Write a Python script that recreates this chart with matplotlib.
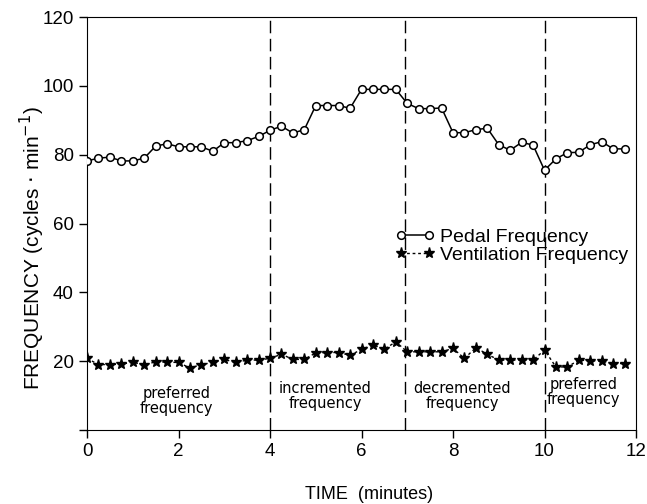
import numpy as np
import matplotlib.pyplot as plt

plt.rcParams['font.family'] = ['Liberation Sans', 'DejaVu Sans']

# time in minutes, one sample every 15 s
time_min = np.arange(48) * 0.25

pedal = [78.2, 79.0, 79.3, 78.2, 78.2, 79.0, 82.5, 83.2, 82.3, 82.3, 82.3, 81.0,
         83.5, 83.5, 84.1, 85.3, 87.1, 88.3, 86.3, 87.3, 94.3, 94.3, 94.3, 93.5,
         99.0, 99.0, 99.0, 99.0, 94.9, 93.4, 93.4, 93.6, 86.4, 86.4, 87.3, 87.7,
         82.9, 81.3, 83.6, 82.8, 75.5, 78.8, 80.6, 80.7, 82.9, 83.8, 81.7, 81.7]

ventilation = [20.8, 19.0, 19.0, 19.1, 19.7, 18.9, 19.8, 19.7, 19.6, 18.0, 19.0, 19.6,
               20.5, 19.6, 20.3, 20.3, 20.8, 22.0, 20.5, 20.5, 22.4, 22.5, 22.5, 21.7,
               23.4, 24.7, 23.5, 25.6, 22.7, 22.7, 22.7, 22.7, 23.7, 20.8, 23.9, 22.0,
               20.3, 20.3, 20.3, 20.3, 23.2, 18.3, 18.3, 20.3, 20.1, 20.0, 19.3, 19.3]

phase_bounds = [4, 6.95, 10]
phase_labels = ['preferred\nfrequency', 'incremented\nfrequency',
                'decremented\nfrequency', 'preferred\nfrequency']
phase_label_x = [1.95, 5.2, 8.2, 10.85]
phase_label_y = [8.5, 10.0, 10.0, 11.0]

fig = plt.figure(figsize=(6.47, 5.04), dpi=100)
ax = fig.add_axes([0.1345, 0.147, 0.8485, 0.819])

for xb in phase_bounds:
    ax.axvline(xb, color='black', lw=1, linestyle=(0, (9, 4)), zorder=1)

ax.plot(time_min, pedal, color='black', lw=1.1, marker='o', markersize=5.5,
        markerfacecolor='white', markeredgecolor='black', markeredgewidth=1.1,
        label='Pedal Frequency', zorder=3)
ax.plot(time_min, ventilation, color='black', lw=1.0, linestyle=(0, (2, 2)),
        marker='*', markersize=8, markerfacecolor='black', markeredgecolor='black',
        label='Ventilation Frequency', zorder=3)

for lab, xl, yl in zip(phase_labels, phase_label_x, phase_label_y):
    ax.text(xl, yl, lab, ha='center', va='center', fontsize=10.5,
            linespacing=1.0, family=['DejaVu Sans'])

ax.set_xlim(0, 12)
ax.set_ylim(0, 120)
ax.set_xticks([0, 2, 4, 6, 8, 10, 12])
ax.set_yticks([0, 20, 40, 60, 80, 100, 120])
ax.set_yticklabels(['', '20', '40', '60', '80', '100', '120'])
ax.tick_params(direction='out', length=6, width=1, labelsize=13.5)

ax.set_xlabel('TIME  (minutes)', fontsize=13)
ax.xaxis.set_label_coords(0.513, -0.135)
ax.set_ylabel('FREQUENCY (cycles $\\cdot$ min$^{-1}$)', fontsize=15)
ax.yaxis.set_label_coords(-0.072, 0.44)

ax.legend(loc='upper left', bbox_to_anchor=(0.548, 0.508), frameon=False,
          numpoints=2, handlelength=2.0, handletextpad=0.3, labelspacing=0.05,
          fontsize=14, borderaxespad=0)

fig.savefig('out.png', dpi=100)
